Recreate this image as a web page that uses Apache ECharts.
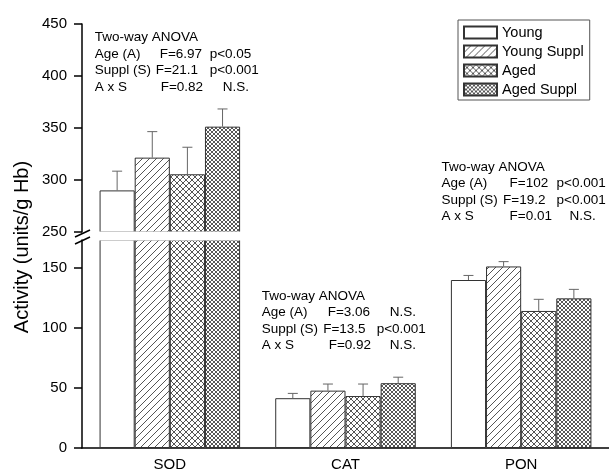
<!DOCTYPE html>
<html>
<head>
<meta charset="utf-8">
<script src="https://cdn.jsdelivr.net/npm/echarts@6/dist/echarts.min.js"></script>
<style>
  html, body { margin: 0; padding: 0; background: #fff; }
  #chart { width: 609px; height: 470px; }
</style>
</head>
<body>
<div id="chart"></div>
<script>
  const categories = ['SOD', 'CAT', 'PON'];
  const seriesNames = ['Young', 'Young Suppl', 'Aged', 'Aged Suppl'];

  const young = [290, 41.5, 140];
  const youngErr = [18.5, 4, 3.8];
  const youngSuppl = [321.5, 47.8, 151.3];
  const youngSupplErr = [25, 5.5, 4];
  const aged = [305.5, 43.3, 114.2];
  const agedErr = [26, 10, 9.7];
  const agedSuppl = [351.3, 54, 124.7];
  const agedSupplErr = [17, 5, 7.5];

  const upperTicks = [250, 300, 350, 400, 450];
  const lowerTicks = [0, 50, 100, 150];

  const anovaTitle = 'Two-way ANOVA';
  const anovaRows = ['Age (A)', 'Suppl (S)', 'A x S'];
  const sodStats = [['F=6.97', 'p<0.05'], ['F=21.1', 'p<0.001'], ['F=0.82', 'N.S.']];
  const catStats = [['F=3.06', 'N.S.'], ['F=13.5', 'p<0.001'], ['F=0.92', 'N.S.']];
  const ponStats = [['F=102', 'p<0.001'], ['F=19.2', 'p<0.001'], ['F=0.01', 'N.S.']];

  const FONT = '"Liberation Sans", Arial, sans-serif';
  const values = [young, youngSuppl, aged, agedSuppl];
  const errors = [youngErr, youngSupplErr, agedErr, agedSupplErr];

  // hatch fills drawn on small canvases
  function hatch(size, cross, color, lw) {
    const c = document.createElement('canvas');
    c.width = c.height = size;
    const ctx = c.getContext('2d');
    ctx.fillStyle = '#fff';
    ctx.fillRect(0, 0, size, size);
    ctx.strokeStyle = color;
    ctx.lineWidth = lw;
    ctx.beginPath();
    for (const k of [-size, 0, size]) {
      ctx.moveTo(k, size);
      ctx.lineTo(k + size, 0);
      if (cross) {
        ctx.moveTo(k, 0);
        ctx.lineTo(k + size, size);
      }
    }
    ctx.stroke();
    return {image: c, repeat: 'repeat'};
  }

  const fills = ['#fff', hatch(7, false, '#555', 1), hatch(6, true, '#555', 1), hatch(4, true, '#444', 0.9)];

  const lowerMax = 208 / 1.2;
  const ranges = [[250, 450], [0, lowerMax]];

  const series = [];
  [0, 1].forEach(g => {
    values.forEach((vals, i) => {
      series.push({
        type: 'bar',
        name: seriesNames[i],
        xAxisIndex: g,
        yAxisIndex: g,
        data: vals,
        barWidth: '20%',
        barGap: '0%',
        clip: true,
        itemStyle: {color: fills[i], borderColor: '#333', borderWidth: 1}
      });
    });
    const errData = [];
    values.forEach((vals, i) => {
      vals.forEach((v, j) => errData.push([j, v, errors[i][j], i]));
    });
    series.push({
      type: 'custom',
      xAxisIndex: g,
      yAxisIndex: g,
      data: errData,
      encode: {x: 0, y: 1},
      z: 3,
      renderItem(params, api) {
        const j = api.value(0), v = api.value(1), e = api.value(2), i = api.value(3);
        if (v < ranges[g][0] || v + e > ranges[g][1]) return null;
        const bw = api.size([1, 0])[0] * 0.2;
        const p0 = api.coord([j, v]);
        const p1 = api.coord([j, v + e]);
        const x = p0[0] + bw * (i - 1.5);
        const st = {stroke: '#666', lineWidth: 1};
        return {
          type: 'group',
          children: [
            {type: 'line', shape: {x1: x, y1: p0[1], x2: x, y2: p1[1]}, style: st},
            {type: 'line', shape: {x1: x - 5, y1: p1[1], x2: x + 5, y2: p1[1]}, style: st}
          ]
        };
      }
    });
  });

  const axisLine = {show: true, lineStyle: {color: '#000', width: 1.5}};
  const labelStyle = {color: '#000', fontSize: 15, fontFamily: FONT};

  // annotation text blocks
  const graphics = [];
  function anovaBlock(x0, y0, stats, fOff) {
    const gap = 16.4;
    const txt = (t, x, y) => graphics.push({
      type: 'text', x: x, y: y, z: 10,
      style: {text: t, fill: '#000', fontSize: 13.5, fontFamily: FONT, verticalAlign: 'middle', align: 'left'}
    });
    txt(anovaTitle, x0, y0);
    anovaRows.forEach((r, k) => {
      const y = y0 + gap * (k + 1);
      txt(r, x0, y);
      txt(stats[k][0], x0 + fOff[k], y);
      txt(stats[k][1], x0 + (stats[k][1] === 'N.S.' ? 128 : 115), y);
    });
  }
  anovaBlock(94.7, 37.7, sodStats, [65, 61, 66]);
  anovaBlock(261.7, 296, catStats, [66, 61.5, 67]);
  anovaBlock(441.5, 167.3, ponStats, [68, 61.5, 68]);

  graphics.push({
    type: 'text', x: 22, y: 247, rotation: Math.PI / 2, z: 10,
    style: {text: 'Activity (units/g Hb)', fill: '#000', fontSize: 20, fontFamily: FONT, align: 'center', verticalAlign: 'middle'}
  });
  // white gap across the broken bars
  graphics.push({type: 'rect', z: 20, shape: {x: 84, y: 231.5, width: 525, height: 9}, style: {fill: '#fff'}});
  // axis break marks
  graphics.push({type: 'line', z: 21, shape: {x1: 75, y1: 237, x2: 90, y2: 230}, style: {stroke: '#000', lineWidth: 1.5}});
  graphics.push({type: 'line', z: 21, shape: {x1: 75, y1: 244, x2: 90, y2: 237}, style: {stroke: '#000', lineWidth: 1.5}});

  const chart = echarts.init(document.getElementById('chart'));
  chart.setOption({
    animation: false,
    legend: {
      data: seriesNames,
      orient: 'vertical',
      left: 458,
      top: 20,
      icon: 'rect',
      itemWidth: 33,
      itemHeight: 12,
      itemGap: 4,
      padding: [5, 6, 3, 5],
      borderColor: '#555',
      borderWidth: 1,
      textStyle: {color: '#000', fontSize: 14.5, fontFamily: FONT}
    },
    grid: [
      {left: 82, right: 0, top: 24, height: 208, outerBoundsMode: 'none'},
      {left: 82, right: 0, top: 240, height: 208, outerBoundsMode: 'none'}
    ],
    xAxis: [
      {gridIndex: 0, type: 'category', data: categories, show: false},
      {
        gridIndex: 1, type: 'category', data: categories,
        axisLine: axisLine, axisTick: {show: false},
        axisLabel: Object.assign({margin: 9}, labelStyle)
      }
    ],
    yAxis: [
      {
        gridIndex: 0, type: 'value', min: 250, max: 450, interval: 50,
        axisLine: axisLine,
        axisTick: {show: true, length: 8, lineStyle: {color: '#000', width: 1.5}, customValues: upperTicks},
        axisLabel: Object.assign({margin: 15, customValues: upperTicks}, labelStyle),
        splitLine: {show: false}
      },
      {
        gridIndex: 1, type: 'value', min: 0, max: lowerMax, interval: 50,
        axisLine: axisLine,
        axisTick: {show: true, length: 8, lineStyle: {color: '#000', width: 1.5}, customValues: lowerTicks},
        axisLabel: Object.assign({margin: 15, customValues: lowerTicks}, labelStyle),
        splitLine: {show: false}
      }
    ],
    graphic: graphics,
    series: series
  });
</script>
</body>
</html>
